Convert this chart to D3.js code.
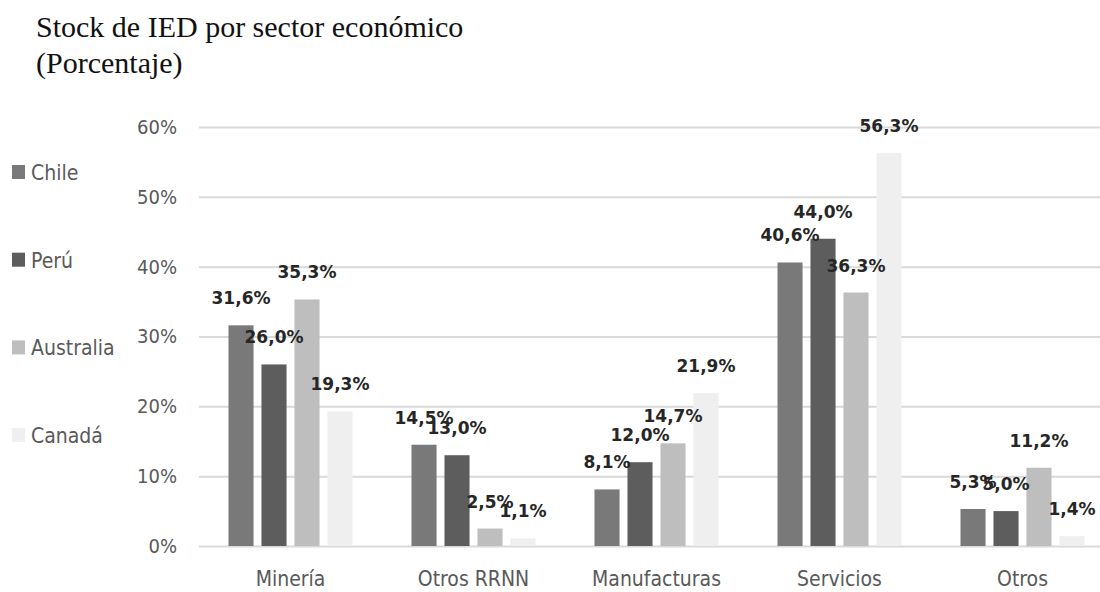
<!DOCTYPE html>
<html>
<head>
<meta charset="utf-8">
<script src="https://cdn.jsdelivr.net/npm/d3@7"></script>
<style>
  body { margin: 0; background: #fff; }
  svg { display: block; }
  .lbl { font-family: "DejaVu Sans Condensed", "DejaVu Sans", sans-serif; }
  .val { font-family: "DejaVu Sans", sans-serif; }
</style>
</head>
<body>
<svg id="chart" width="1100" height="592"></svg>
<script>
var categories = ["Minería", "Otros RRNN", "Manufacturas", "Servicios", "Otros"];
var seriesNames = ["Chile", "Perú", "Australia", "Canadá"];
var chile = [31.6, 14.5, 8.1, 40.6, 5.3];
var peru = [26.0, 13.0, 12.0, 44.0, 5.0];
var australia = [35.3, 2.5, 14.7, 36.3, 11.2];
var canada = [19.3, 1.1, 21.9, 56.3, 1.4];
var yTicks = [0, 10, 20, 30, 40, 50, 60];
var colors = ["#797979", "#5d5d5d", "#bebebe", "#efefef"];

var series = [chile, peru, australia, canada];

var svg = d3.select("#chart");
var fmt = function(v) { return v.toFixed(1).replace(".", ",") + "%"; };

// title
svg.append("text")
  .attr("x", 36).attr("y", 37)
  .style("font-family", "'Liberation Serif', 'Times New Roman', serif")
  .style("font-size", "30px")
  .attr("fill", "#111")
  .text("Stock de IED por sector económico");
svg.append("text")
  .attr("x", 36).attr("y", 73)
  .style("font-family", "'Liberation Serif', 'Times New Roman', serif")
  .style("font-size", "30px")
  .attr("fill", "#111")
  .text("(Porcentaje)");

var x0 = d3.scaleBand()
  .domain(categories)
  .range([199, 1114])
  .paddingInner(0.279)
  .paddingOuter(0.1395);

var x1 = d3.scaleBand()
  .domain(seriesNames)
  .range([0, x0.bandwidth()])
  .paddingInner(0.24)
  .paddingOuter(0.12);

var y = d3.scaleLinear()
  .domain([0, 60])
  .range([546, 127]);

// gridlines + y labels
var yAxis = svg.append("g")
  .attr("transform", "translate(199,0)")
  .call(d3.axisLeft(y).tickValues(yTicks).tickSize(-901).tickFormat(d => d + "%").tickPadding(22));
yAxis.select(".domain").remove();
yAxis.selectAll(".tick line").attr("stroke", "#d9d9d9").attr("stroke-width", 2);
yAxis.selectAll(".tick text")
  .attr("class", "lbl")
  .attr("fill", "#595959")
  .style("font-size", "20px");

// x labels
var xAxis = svg.append("g")
  .attr("transform", "translate(0,546)")
  .call(d3.axisBottom(x0).tickSize(0).tickPadding(25));
xAxis.select(".domain").remove();
xAxis.selectAll(".tick text")
  .attr("class", "lbl")
  .attr("fill", "#595959")
  .style("font-size", "21px");

// bars
var groups = svg.append("g").selectAll("g")
  .data(categories)
  .join("g")
  .attr("transform", d => "translate(" + x0(d) + ",0)");

groups.selectAll("rect")
  .data((d, i) => seriesNames.map((s, j) => ({ s: s, v: series[j][i] })))
  .join("rect")
  .attr("x", d => x1(d.s))
  .attr("y", d => y(d.v))
  .attr("width", x1.bandwidth())
  .attr("height", d => y(0) - y(d.v))
  .attr("fill", (d, j) => colors[j]);

groups.selectAll("text")
  .data((d, i) => seriesNames.map((s, j) => ({ s: s, v: series[j][i] })))
  .join("text")
  .attr("class", "val")
  .attr("x", d => x1(d.s) + x1.bandwidth() / 2)
  .attr("y", d => y(d.v) - 21)
  .attr("text-anchor", "middle")
  .attr("fill", "#262626")
  .style("font-size", "17px")
  .style("font-weight", "bold")
  .text(d => fmt(d.v));

// legend
var legend = svg.append("g").selectAll("g")
  .data(seriesNames)
  .join("g")
  .attr("transform", (d, i) => "translate(12," + (172 + i * 87.7) + ")");
legend.append("rect")
  .attr("x", 0).attr("y", -7)
  .attr("width", 13).attr("height", 14)
  .attr("fill", (d, i) => colors[i]);
legend.append("text")
  .attr("class", "lbl")
  .attr("x", 19).attr("y", 8)
  .attr("fill", "#595959")
  .style("font-size", "21px")
  .text(d => d);
</script>
</body>
</html>
